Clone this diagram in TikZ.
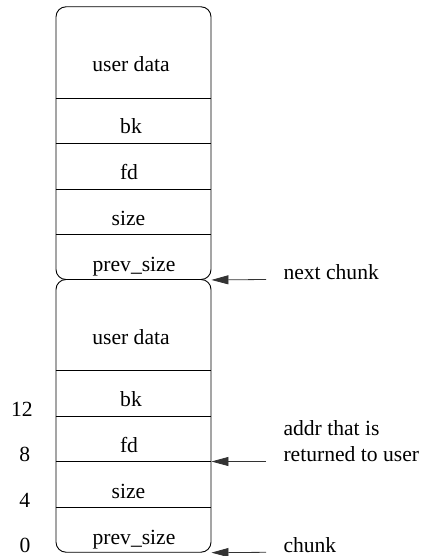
\documentclass[tikz,border=0pt]{standalone}
\usepackage{fontspec}
\setmainfont{Liberation Serif}
\newfontfamily\figfont{Liberation Serif}
\usetikzlibrary{arrows.meta}
\begin{document}
\begin{tikzpicture}[x=1pt,y=-1pt,
  chunkbox/.style={draw=black,line width=0.9pt,rounded corners=10pt,minimum width=155pt,minimum height=272.7pt,inner sep=0pt},
  sep/.style={draw=black,line width=0.8pt},
  field/.style={anchor=base,inner sep=0pt,font=\figfont\fontsize{21.6}{26}\selectfont},
  lbl/.style={anchor=base west,inner sep=0pt,font=\figfont\fontsize{21.6}{26}\selectfont},
  num/.style={anchor=base,inner sep=0pt,font=\figfont\fontsize{21.6}{26}\selectfont},
  arr/.style={draw=black!80,line width=0.8pt,-{Triangle[length=17pt,width=9pt]}}]
\useasboundingbox (0,0) rectangle (422,556);
% chunks
\node[chunkbox] (c1) at (133.5,143.15) {};
\node[chunkbox] (c2) at (133.5,415.85) {};
% separators
\foreach \y in {98,143.5,189,234.5,370.5,416,461.5,507} {
  \draw[sep] (c1.west |- 0,\y) -- (c1.east |- 0,\y);
}
% field texts
\node[field] (ud1) at (131,72) {user data};
\node[field] (bk1) at (131,133.3) {bk};
\node[field] (fd1) at (129,179) {fd};
\node[field] (sz1) at (128.5,225) {size};
\node[field] (ps1) at (134,271.5) {prev\_size};
\node[field] (ud2) at (131,344) {user data};
\node[field] (bk2) at (131,406.7) {bk};
\node[field] (fd2) at (129,452.7) {fd};
\node[field] (sz2) at (128.5,498.3) {size};
\node[field] (ps2) at (134,544) {prev\_size};
% offsets
\node[num] (n12) at (22,416) {12};
\node[num] (n8) at (24.7,461.7) {8};
\node[num] (n4) at (24.7,507.3) {4};
\node[num] (n0) at (25,552.7) {0};
% labels
\node[lbl] (lnext) at (283.3,279.5) {next chunk};
\node[lbl] (laddr1) at (283.3,435.7) {addr that is};
\node[lbl] (laddr2) at (283.3,461.7) {returned to user};
\node[lbl] (lchunk) at (283.3,552.7) {chunk};
% arrows
\coordinate (t1) at (266,279.5);
\coordinate (t2) at (266,461.5);
\coordinate (t3) at (266,552.3);
\draw[arr] (t1) -- (c1.south east);
\draw[arr] (t2) -- (c2.east |- t2);
\draw[arr] (t3) -- (c2.south east);
\end{tikzpicture}
\end{document}
